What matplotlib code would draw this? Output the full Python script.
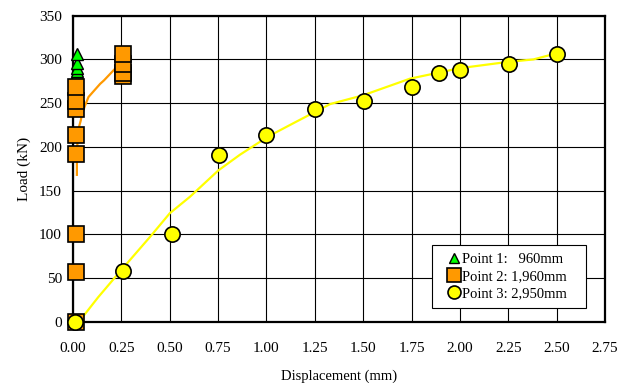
import matplotlib
matplotlib.use("Agg")
import matplotlib.pyplot as plt

# Point 1: 960mm (green triangles)
p1_x = [0.02, 0.02, 0.02, 0.02, 0.02, 0.02]
p1_y = [281, 284, 287, 290, 296, 306]

# Point 2: 1,960mm (orange squares)
p2_x = [0.015, 0.015, 0.015, 0.015, 0.015, 0.015, 0.015, 0.015, 0.26, 0.26, 0.26, 0.26]
p2_y = [0, 57, 100, 192, 214, 243, 253, 268, 281, 285, 295, 306]
p2_line_x = [0.02, 0.02, 0.025, 0.03, 0.04, 0.045, 0.06, 0.08, 0.10, 0.12, 0.14, 0.16, 0.19, 0.22, 0.24]
p2_line_y = [168, 195, 210, 222, 230, 236, 246, 257, 262, 267, 272, 276, 283, 290, 292]

# Point 3: 2,950mm (yellow circles)
p3_x = [0.01, 0.26, 0.51, 0.755, 1.00, 1.25, 1.505, 1.75, 1.89, 2.00, 2.255, 2.50]
p3_y = [0, 58, 100, 191, 214, 243, 253, 268, 284, 288, 295, 306]
p3_line_x = [0.03, 0.045, 0.13, 0.226, 0.30, 0.398, 0.50, 0.605, 0.751, 0.863, 1.01, 1.156, 1.33, 1.50, 1.742, 2.00, 2.242, 2.38, 2.466]
p3_line_y = [0, 4, 28, 53, 72, 97, 124, 143, 173, 191, 212, 229, 249, 259, 278, 290, 297, 300, 305]

x_ticks = [0.00, 0.25, 0.50, 0.75, 1.00, 1.25, 1.50, 1.75, 2.00, 2.25, 2.50, 2.75]
y_ticks = [0, 50, 100, 150, 200, 250, 300, 350]

plt.rcParams['font.family'] = ['Liberation Serif', 'DejaVu Serif']

fig = plt.figure(figsize=(6.31, 3.83), dpi=100)
ax = fig.add_axes([0.1157, 0.16, 0.8431, 0.799])

ax.plot(p3_line_x, p3_line_y, color='#FFFF00', lw=1.6, zorder=3)
ax.plot(p2_line_x, p2_line_y, color='#FF9900', lw=1.6, zorder=3)

ax.plot(p1_x, p1_y, linestyle='none', marker='^', ms=8, mfc='#00FF00', mec='black', mew=1.0,
        label='Point 1:   960mm   ', zorder=4, clip_on=False)
ax.plot(p2_x, p2_y, linestyle='none', marker='s', ms=11.5, mfc='#FF9900', mec='black', mew=1.2,
        label='Point 2: 1,960mm   ', zorder=5, clip_on=False)
ax.plot(p3_x, p3_y, linestyle='none', marker='o', ms=11, mfc='#FFFF00', mec='black', mew=1.2,
        label='Point 3: 2,950mm   ', zorder=6, clip_on=False)

ax.set_xlim(0, 2.75)
ax.set_ylim(0, 350)
ax.set_xticks(x_ticks)
ax.set_xticklabels([f"{v:.2f}" for v in x_ticks])
ax.set_yticks(y_ticks)
ax.grid(True, color='black', lw=0.8)
ax.set_axisbelow(True)
ax.tick_params(axis='y', length=0, labelsize=11, pad=8)
ax.tick_params(axis='x', length=0, labelsize=11, pad=14.5)
for s in ax.spines.values():
    s.set_linewidth(1.6)

ax.set_xlabel('Displacement (mm)', fontsize=10.5, labelpad=10.5)
ax.set_ylabel('Load (kN)', fontsize=11, labelpad=6)

leg = ax.legend(loc='lower right', bbox_to_anchor=(0.964, 0.045), fontsize=10.5, frameon=True, fancybox=False,
                edgecolor='black', framealpha=1, handlelength=1.9, handletextpad=-0.38,
                borderpad=0.55, labelspacing=0.25, markerscale=0.85, borderaxespad=0)
leg.get_frame().set_linewidth(0.8)

fig.savefig('out.png', dpi=100)
